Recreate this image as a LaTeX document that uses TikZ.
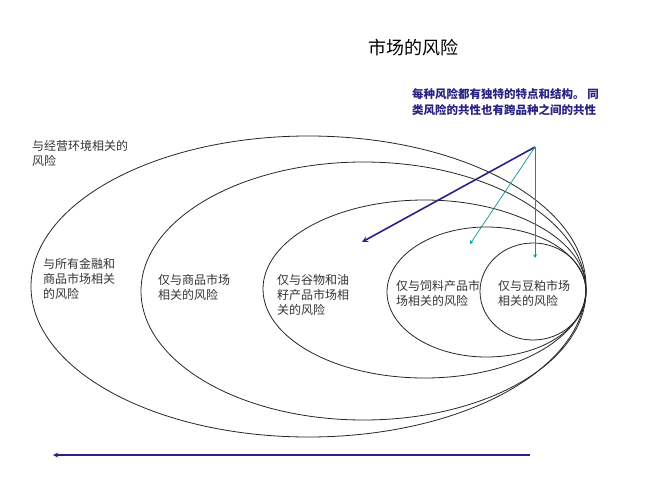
\documentclass[tikz,border=0pt]{standalone}
\usepackage{fontspec}
\setmainfont{Noto Sans CJK SC}
\begin{document}
\begin{tikzpicture}[x=1pt,y=-1pt,
  ring/.style={draw=black!85,line width=0.8pt},
  lbl/.style={anchor=north west,align=left,font=\fontsize{12}{15}\selectfont,text=black!80,inner sep=0pt},
  bigarrow/.style={draw={rgb,255:red,40;green,35;blue,130},line width=1.6pt,-stealth},
  thinarrow/.style={draw={rgb,255:red,0;green,150;blue,150},line width=0.7pt,-stealth}]
\useasboundingbox (0,0) rectangle (650,487);
\draw[ring] (308.5,286.5) ellipse [x radius=277.5,y radius=150.5];
\draw[ring] (363.5,291) ellipse [x radius=222.5,y radius=129];
\draw[ring] (424.5,289) ellipse [x radius=161.5,y radius=89];
\draw[ring] (486.5,292) ellipse [x radius=99.5,y radius=65];
\draw[ring] (533,291.5) ellipse [x radius=53,y radius=48.5];
\node (title) at (413,48) {\fontsize{18}{20}\selectfont 市场的风险};
\node[anchor=north west,align=left,inner sep=0pt,text={rgb,255:red,40;green,35;blue,130},font=\fontsize{11.5}{16}\selectfont\bfseries] (note) at (412,88) {每种风险都有独特的特点和结构。 同\\类风险的共性也有跨品种之间的共性};
\node[lbl] (l0) at (32,140) {与经营环境相关的\\风险};
\node[lbl] (l1) at (43,258) {与所有金融和\\商品市场相关\\的风险};
\node[lbl] (l2) at (158,274) {仅与商品市场\\相关的风险};
\node[lbl] (l3) at (277,274) {仅与谷物和油\\籽产品市场相\\关的风险};
\node[lbl] (l4) at (396,280) {仅与饲料产品市\\场相关的风险};
\node[lbl] (l5) at (498,280) {仅与豆粕市场\\相关的风险};
\coordinate (o) at (535,147);
\coordinate (a1) at (362,242);
\coordinate (a2) at (470,244);
\coordinate (a3) at (535,258);
\coordinate (b0) at (530,455);
\coordinate (b1) at (53,455);
\draw[bigarrow] (o) -- (a1);
\draw[thinarrow] (o) -- (a2);
\draw[thinarrow] (o) -- (a3);
\draw[bigarrow,line width=1.3pt] (b0) -- (b1);
\end{tikzpicture}
\end{document}
